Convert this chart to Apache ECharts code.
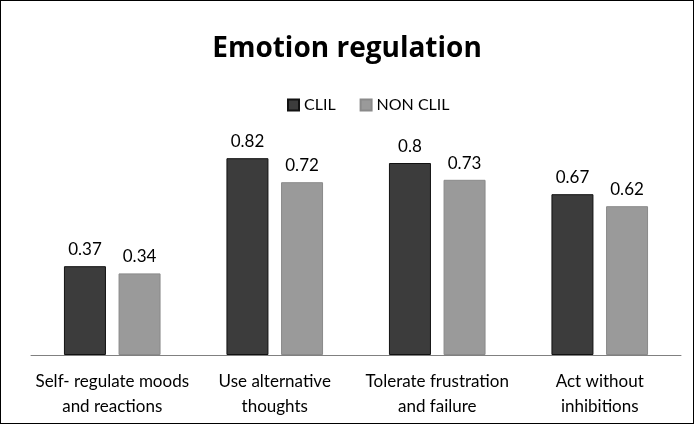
<!DOCTYPE html>
<html><head><meta charset="utf-8">
<script src="https://cdn.jsdelivr.net/npm/echarts@6/dist/echarts.min.js"></script>
<style>html,body{margin:0;padding:0;background:#fff}#c{width:692px;height:422px;border:1px solid #000}</style>
</head><body><div id="c"></div>
<script>
const categories = ["Self- regulate moods\nand reactions", "Use alternative\nthoughts", "Tolerate frustration\nand failure", "Act without\ninhibitions"];
const clil = [0.37, 0.82, 0.8, 0.67];
const nonClil = [0.34, 0.72, 0.73, 0.62];
const seriesNames = ["CLIL", "NON CLIL"];
const font = "Lato";
const chart = echarts.init(document.getElementById('c'));
chart.setOption({
  animation: false,
  title: { text: "Emotion regulation", left: 'center', top: 29, textStyle: { fontFamily: "Open Sans", fontWeight: 'bold', fontSize: 28, color: '#000' } },
  legend: { top: 91, left: 281, itemWidth: 11, itemHeight: 11, itemGap: 24, icon: 'rect',
    textStyle: { fontFamily: font, fontSize: 16, color: '#000' }, data: seriesNames },
  grid: { left: 30, right: 12, top: 114, bottom: 68 },
  xAxis: { type: 'category', data: categories,
    axisLine: { lineStyle: { color: '#808080', width: 1 } }, axisTick: { show: false },
    axisLabel: { interval: 0, margin: 14, fontFamily: font, fontSize: 17, color: '#000', lineHeight: 25 } },
  yAxis: { type: 'value', min: 0, max: 1, show: false, splitLine: { show: false } },
  series: [
    { name: seriesNames[0], type: 'bar', data: clil, barWidth: 42, barGap: '30%',
      itemStyle: { color: '#3c3c3c', borderColor: '#111', borderWidth: 1 },
      label: { show: true, position: 'top', distance: 8, fontFamily: font, fontSize: 17, color: '#000' } },
    { name: seriesNames[1], type: 'bar', data: nonClil, barWidth: 42,
      itemStyle: { color: '#9a9a9a', borderColor: '#8a8a8a', borderWidth: 1 },
      label: { show: true, position: 'top', distance: 8, fontFamily: font, fontSize: 17, color: '#000' } }
  ]
});
</script></body></html>
